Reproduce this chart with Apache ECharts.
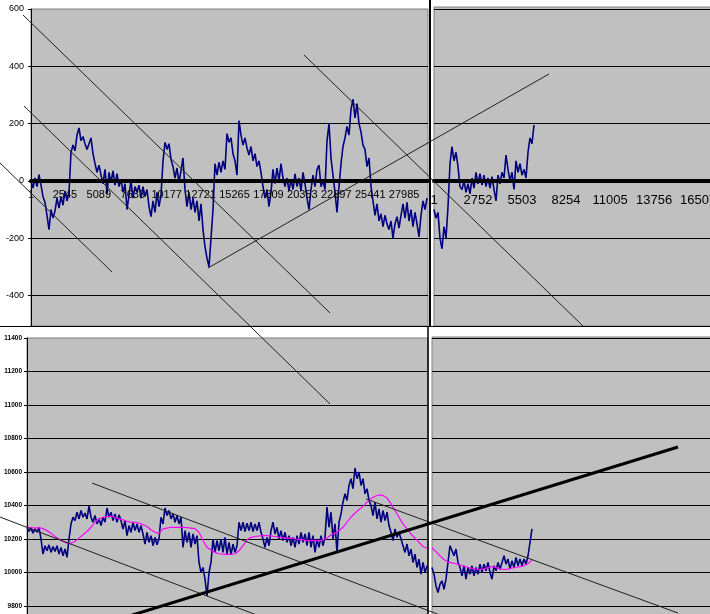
<!DOCTYPE html>
<html><head><meta charset="utf-8">
<script src="https://cdn.jsdelivr.net/npm/echarts@6/dist/echarts.min.js"></script>
<style>html,body{margin:0;padding:0;background:#fff}#c{width:710px;height:614px}</style>
</head><body><div id="c"></div>
<script>
// ---- data ----
// top-left panel: deviation series (one sample every 150 ticks)
const tlStep = 150;
const tlValues = [0,-25,10,-20,22,-15,-55,-75,-120,-170,
-100,-130,-105,-60,-95,-55,-85,-35,-70,-40,
100,125,105,160,185,140,155,130,110,130,
150,95,60,30,55,20,-10,40,-45,30,
-5,35,-15,25,-20,5,-40,-10,-100,-50,
0,-60,-20,-40,-15,-60,-20,-55,-30,-90,
-125,-70,-110,-40,-90,-50,70,135,110,130,
75,50,10,45,-5,35,80,-30,-90,-40,
-100,-60,-110,-70,-140,-80,-170,-230,-270,-300,
-200,-100,60,20,65,30,70,40,165,135,
150,95,70,20,210,160,125,150,115,90,
120,70,95,50,70,30,-20,-60,-30,-90,
-40,40,-10,45,0,60,10,-20,10,-35,
5,-30,25,-20,10,-35,30,-10,-60,-100,
-30,20,-20,40,55,-20,0,-30,140,200,
80,20,-40,-110,-20,60,120,150,190,160,
250,285,220,270,200,170,125,110,50,80,
-20,-70,-120,-80,-140,-115,-160,-120,-150,-170,
-140,-200,-150,-125,-165,-120,-80,-130,-75,-140,
-100,-160,-110,-150,-195,-120,-70,-100,-60];
// top-right panel
const trStep = 125;
const trValues = [-100,-130,-110,-200,-237,-160,-200,-90,60,120,
70,100,50,-20,-30,0,-40,-10,-45,10,
-25,30,-10,25,-15,20,-20,10,-25,15,
-30,-70,20,-10,30,10,90,40,0,30,
-30,70,30,60,20,40,10,100,150,130,
195];
// bottom-left panel: price and its moving average
const blStep = 150;
const blValues = [10270,10245,10265,10235,10260,10240,10270,10200,10110,10160,
10130,10165,10120,10155,10125,10160,10110,10150,10100,10140,
10090,10200,10290,10330,10310,10360,10320,10370,10330,10355,
10320,10397,10330,10300,10340,10290,10320,10280,10330,10300,
10385,10330,10360,10310,10350,10300,10345,10310,10260,10310,
10220,10280,10240,10300,10250,10290,10240,10280,10230,10170,
10240,10180,10220,10160,10210,10165,10200,10330,10290,10385,
10340,10370,10320,10350,10300,10340,10290,10330,10150,10250,
10180,10240,10150,10230,10170,10220,10060,10000,10030,9960,
9860,10000,10060,10200,10120,10190,10130,10200,10120,10210,
10110,10180,10105,10170,10120,10160,10300,10250,10300,10245,
10295,10250,10300,10245,10290,10250,10300,10240,10200,10150,
10210,10160,10250,10300,10230,10270,10200,10250,10190,10240,
10180,10220,10160,10210,10150,10220,10170,10240,10180,10230,
10160,10240,10150,10220,10120,10200,10150,10220,10160,10210,
10390,10270,10360,10200,10290,10120,10300,10350,10420,10470,
10430,10520,10560,10500,10624,10560,10600,10520,10560,10470,
10500,10430,10400,10340,10420,10320,10380,10300,10370,10310,
10360,10280,10240,10190,10260,10210,10240,10200,10190,10120,
10170,10100,10140,10060,10110,10030,10080,9990,10060,10000,
10040];
const blMaStep = 300;
const blMa = [10270,10268,10265,10268,10262,10250,10235,10215,10200,10185,
10175,10175,10185,10205,10225,10245,10270,10300,10320,10330,
10335,10335,10330,10320,10315,10305,10300,10300,10295,10285,
10275,10255,10240,10235,10260,10265,10270,10270,10270,10270,
10268,10265,10262,10240,10190,10150,10135,10120,10112,10110,
10108,10108,10112,10130,10160,10195,10210,10215,10218,10220,
10220,10218,10215,10210,10208,10205,10205,10200,10198,10195,
10192,10190,10192,10188,10195,10205,10225,10235,10250,10270,
10300,10330,10355,10375,10395,10420,10440,10455,10463,10460,
10445,10410,10370,10330,10290,10260,10230,10205,10180,10155,
10145];
// bottom-right panel
const brStep = 125;
const brValues = [10030,9990,9920,9880,9930,9950,9900,9960,10060,10160,
10130,10100,10140,10060,10030,9980,10040,9960,10030,9990,
10040,9980,10030,9990,10050,10000,10050,10010,10060,10000,
9960,10040,10010,10060,10020,10060,10100,10050,10080,10020,
10070,10030,10090,10040,10080,10040,10080,10050,10100,10180,
10260];
const brMaStep = 250;
const brMa = [10148,10125,10100,10078,10062,10058,10052,10045,10038,10030,
10025,10020,10018,10020,10030,10035,10030,10022,10018,10020,
10028,10030,10035,10040,10052,10075];
// tick label spacing of the category counters
const tlTickStep = 2544;
const trTickStep = 2751;
// hand-drawn trend lines, in the data units of the top-left / bottom-left panels
const topTrendLines = [
  [[-2325, 62.5], [6075, -318]],
  [[-525, 261.4], [22425, -778.7]],
  [[-600, 579.1], [22425, -461.1]],
  [[20475, 439.4], [41475, -510]],
  [[13275, -304], [38850, 373.1]]
];
const bottomTrendLines = [
  [[-2025, 10331], [18225, 9716]],
  [[4875, 10534], [30975, 9746]],
  [[25425, 10439], [48825, 9758]]
];
const bottomThickLine = [[6225, 9705], [48825, 10749]];

// ---- chart ----
const FONT = 'Liberation Sans, Arial, sans-serif';
const pairs = (arr, step) => arr.map((v, i) => [i * step, v]);
const gridStyle = {show: true, backgroundColor: '#C0C0C0', borderColor: '#808080', borderWidth: 1, outerBoundsMode: 'none', containLabel: false};
const blue = '#000080', pink = '#FF00FF';
const BW = 1.6;

const series = [
  {type: 'line', xAxisIndex: 0, yAxisIndex: 0, data: pairs(tlValues, tlStep), showSymbol: false, symbol: 'none', lineStyle: {color: blue, width: BW}, z: 2},
  {type: 'line', xAxisIndex: 1, yAxisIndex: 1, data: pairs(trValues, trStep), showSymbol: false, symbol: 'none', lineStyle: {color: blue, width: BW}, z: 2},
  {type: 'line', xAxisIndex: 2, yAxisIndex: 2, data: pairs(blValues, blStep), showSymbol: false, symbol: 'none', lineStyle: {color: blue, width: BW}, z: 2},
  {type: 'line', xAxisIndex: 2, yAxisIndex: 2, data: pairs(blMa, blMaStep), showSymbol: false, symbol: 'none', lineStyle: {color: pink, width: 1.2}, z: 3},
  {type: 'line', xAxisIndex: 3, yAxisIndex: 3, data: pairs(brValues, brStep), showSymbol: false, symbol: 'none', lineStyle: {color: blue, width: BW}, z: 2},
  {type: 'line', xAxisIndex: 3, yAxisIndex: 3, data: pairs(brMa, brMaStep), showSymbol: false, symbol: 'none', lineStyle: {color: pink, width: 1.2}, z: 3}
];
// trend lines go on two transparent full-page grids that extend the panel scales
topTrendLines.forEach(seg => series.push({type: 'line', xAxisIndex: 4, yAxisIndex: 4, data: seg, clip: false, symbol: 'none', silent: true, lineStyle: {color: '#202020', width: 1}, z: 6}));
bottomTrendLines.forEach(seg => series.push({type: 'line', xAxisIndex: 5, yAxisIndex: 5, data: seg, clip: false, symbol: 'none', silent: true, lineStyle: {color: '#202020', width: 1}, z: 6}));
series.push({type: 'line', xAxisIndex: 5, yAxisIndex: 5, data: bottomThickLine, clip: false, symbol: 'none', silent: true, lineStyle: {color: '#000', width: 3}, z: 6});

const splitL = {show: true, showMinLine: false, showMaxLine: false, lineStyle: {color: '#000', width: 1}};
const noAxis = {axisLine: {show: false}, axisTick: {show: false}, axisLabel: {show: false}};
const hidden = {show: false, splitLine: {show: false}};

// panel scales: top 1106.5 units / 317 px, x 75 units / px; bottom 1800 / 301.5 px
const tlYPerPx = 1106.5 / 317, blYPerPx = 1800 / 301.5;
const zeroOffset = -(317 - 600 / tlYPerPx);

const option = {
  animation: false,
  backgroundColor: '#fff',
  grid: [
    Object.assign({left: 31, top: 9, width: 397, height: 317}, gridStyle),
    Object.assign({left: 434, top: 7, width: 300, height: 319}, gridStyle),
    Object.assign({left: 27, top: 338, width: 401, height: 301.5}, gridStyle),
    Object.assign({left: 432, top: 337, width: 300, height: 302.5}, gridStyle),
    {left: 0, top: 0, width: 710, height: 614, show: false, outerBoundsMode: 'none'},
    {left: 0, top: 0, width: 710, height: 614, show: false, outerBoundsMode: 'none'}
  ],
  xAxis: [
    {gridIndex: 0, type: 'value', min: 0, max: 397 * 75, interval: tlTickStep, z: 4, position: 'bottom', offset: zeroOffset,
     axisLine: {onZero: false, lineStyle: {color: '#000', width: 4}}, axisTick: {show: false}, splitLine: {show: false},
     axisLabel: {formatter: v => String(v + 1), fontSize: 11, fontFamily: FONT, color: '#000', margin: 9, showMaxLabel: false, hideOverlap: false}},
    {gridIndex: 1, type: 'value', min: 0, max: 300 * 62.5, interval: trTickStep, z: 4, position: 'bottom', offset: zeroOffset,
     axisLine: {onZero: false, lineStyle: {color: '#000', width: 4}}, axisTick: {show: false}, splitLine: {show: false},
     axisLabel: {formatter: v => String(v + 1), fontSize: 13, fontFamily: FONT, color: '#000', margin: 13, showMaxLabel: false, hideOverlap: false}},
    Object.assign({gridIndex: 2, type: 'value', min: 0, max: 401 * 75, splitLine: {show: false}}, noAxis),
    Object.assign({gridIndex: 3, type: 'value', min: 0, max: 300 * 62.5, splitLine: {show: false}}, noAxis),
    Object.assign({gridIndex: 4, type: 'value', min: -31 * 75, max: (710 - 31) * 75}, hidden),
    Object.assign({gridIndex: 5, type: 'value', min: -27 * 75, max: (710 - 27) * 75}, hidden)
  ],
  yAxis: [
    {gridIndex: 0, type: 'value', min: -506.5, max: 600, splitNumber: 5,
     axisLine: {show: true, onZero: false, lineStyle: {color: '#000', width: 1}},
     axisTick: {show: true, length: 3, lineStyle: {color: '#000'}},
     axisLabel: {fontSize: 9, fontFamily: FONT, color: '#000', margin: 7, showMinLabel: false, formatter: v => String(v)},
     splitLine: splitL},
    Object.assign({gridIndex: 1, type: 'value', min: -506.5, max: 607, splitNumber: 5, splitLine: splitL}, noAxis),
    {gridIndex: 2, type: 'value', min: 9600, max: 11400, interval: 200,
     axisLine: {show: true, onZero: false, lineStyle: {color: '#000', width: 1}},
     axisTick: {show: true, length: 3, lineStyle: {color: '#000'}},
     axisLabel: {fontSize: 6.5, fontWeight: 'bold', fontFamily: FONT, color: '#000', margin: 5, formatter: v => String(v)},
     splitLine: splitL},
    Object.assign({gridIndex: 3, type: 'value', min: 9600, max: 11406, splitNumber: 9, splitLine: splitL}, noAxis),
    Object.assign({gridIndex: 4, type: 'value', min: 600 - 605 * tlYPerPx, max: 600 + 9 * tlYPerPx}, hidden),
    Object.assign({gridIndex: 5, type: 'value', min: 11400 - 276 * blYPerPx, max: 11400 + 338 * blYPerPx}, hidden)
  ],
  graphic: [
    {type: 'line', z: 20, shape: {x1: 0, y1: 326.5, x2: 710, y2: 326.5}, style: {stroke: '#000', lineWidth: 1}},
    {type: 'line', z: 20, shape: {x1: 430, y1: 0, x2: 430, y2: 327}, style: {stroke: '#000', lineWidth: 2}},
    {type: 'line', z: 20, shape: {x1: 428, y1: 326, x2: 428, y2: 614}, style: {stroke: '#000', lineWidth: 1.5}}
  ],
  series: series
};
const chart = echarts.init(document.getElementById('c'), null, {renderer: 'canvas'});
chart.setOption(option);
</script>
</body></html>
